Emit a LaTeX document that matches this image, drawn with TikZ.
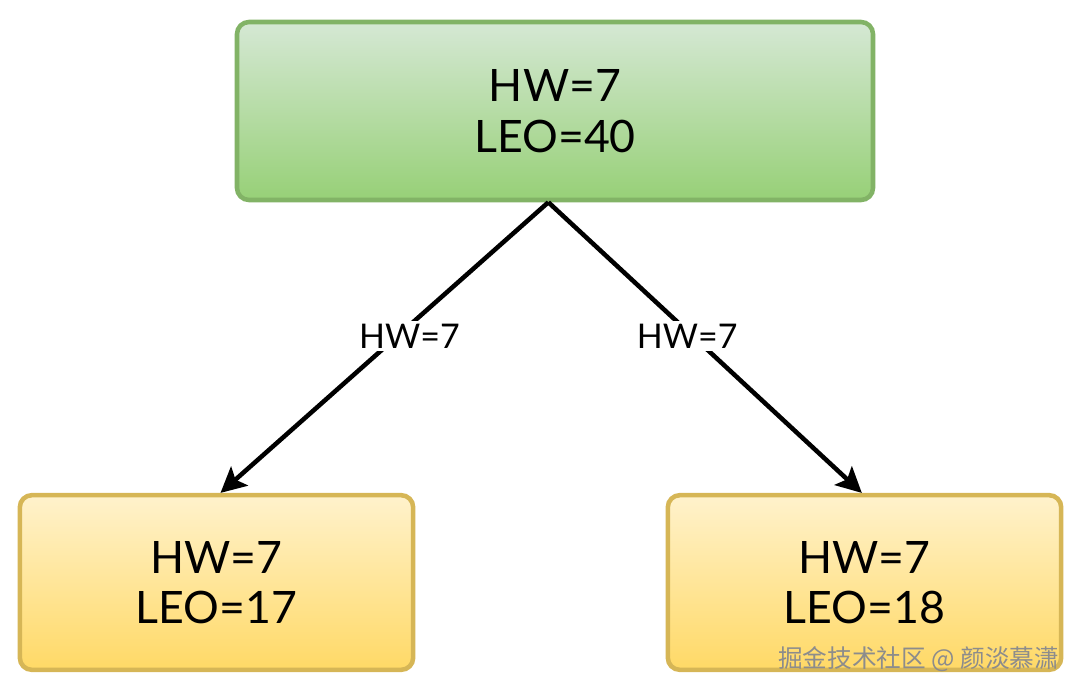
\documentclass[tikz,border=0pt]{standalone}
\usepackage{fontspec}
\setmainfont{Lato}
\newfontfamily\cjk{Noto Sans CJK SC}
\usetikzlibrary{arrows.meta,shadings}
\definecolor{gtop}{HTML}{D5E8D4}
\definecolor{gbot}{HTML}{97D077}
\definecolor{gline}{HTML}{82B366}
\definecolor{ytop}{HTML}{FFF2CC}
\definecolor{ybot}{HTML}{FFD966}
\definecolor{yline}{HTML}{D6B656}
\tikzset{
  box/.style={draw, line width=3.4pt, rounded corners=9pt, align=center,
    font=\fontsize{33.5}{38}\selectfont, inner sep=0pt},
  greenbox/.style={box, draw=gline, top color=gtop, bottom color=gbot,
    minimum width=477pt, minimum height=133.5pt},
  yellowbox/.style={box, draw=yline, top color=ytop, bottom color=ybot,
    minimum width=295pt, minimum height=131pt},
  conn/.style={line width=3.4pt, -{Stealth[length=19pt,width=19pt,inset=4pt]}},
  elabel/.style={fill=white, inner sep=2pt, font=\fontsize{25.5}{29}\selectfont},
  wmark/.style={font=\cjk\fontsize{18.5}{22}\selectfont, text=black!45, anchor=east}
}
\begin{document}
\begin{tikzpicture}[x=0.75pt,y=-0.75pt]
\useasboundingbox (0,0) rectangle (1080,693);
\node[greenbox] (top) at (555,111) {HW=7\\LEO=40};
\node[yellowbox] (bl) at (216.5,582.5) {HW=7\\LEO=17};
\node[yellowbox] (br) at (864.5,582.5) {HW=7\\LEO=18};
\draw[conn] ([xshift=-5pt]top.south) -- ([xshift=3pt]bl.north) node[elabel, pos=0.46, xshift=9pt] {HW=7};
\draw[conn] ([xshift=-5pt]top.south) -- ([xshift=-2pt]br.north) node[elabel, pos=0.46, xshift=-4pt] {HW=7};
\node[wmark] (wm) at (1064,659) {掘金技术社区 @ 颜淡慕潇};
\end{tikzpicture}
\end{document}
